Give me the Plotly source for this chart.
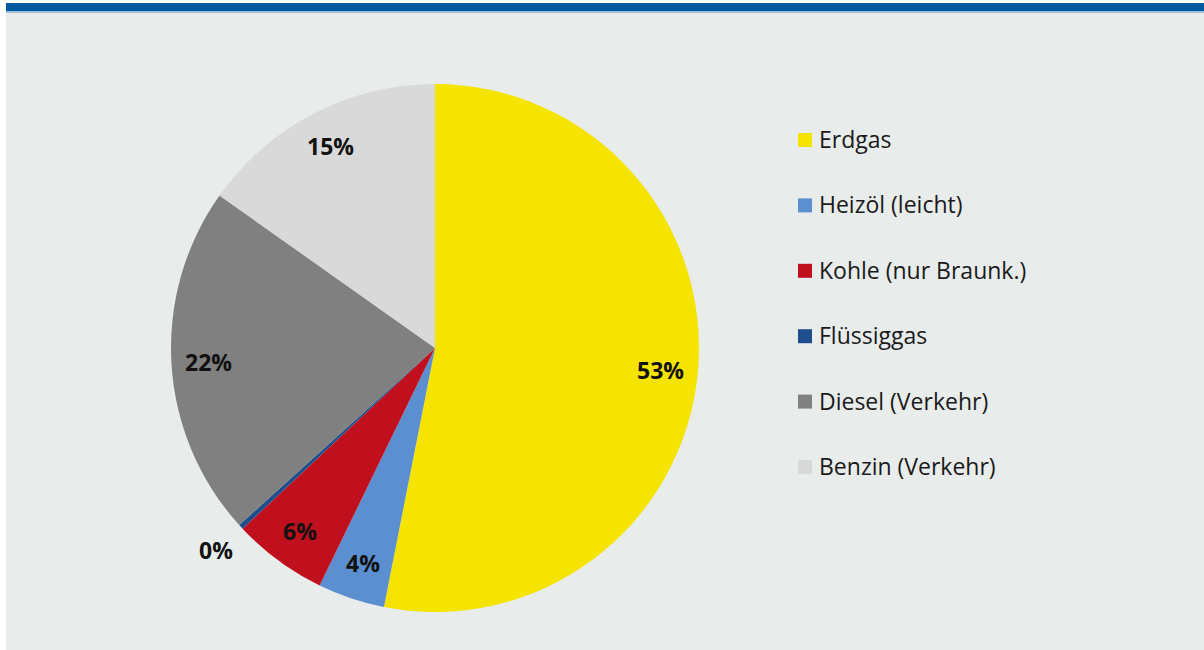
import math
import plotly.graph_objects as go

# data
labels = ["Erdgas", "Heizöl (leicht)", "Kohle (nur Braunk.)", "Flüssiggas",
          "Diesel (Verkehr)", "Benzin (Verkehr)"]
values = [53.1, 4.1, 5.8, 0.3, 21.5, 15.2]
colors = ["#f4e400", "#5b8fcf", "#c1101d", "#1f4e8c", "#808080", "#d9d9d9"]

W, H = 1204, 650
CX, CY, R = 435, 348, 264  # pie centre / radius in pixels
BG = "#e8eceb"
FONT = "Open Sans"

fig = go.Figure()
fig.add_trace(go.Pie(
    labels=labels,
    values=values,
    sort=False,
    direction="clockwise",
    rotation=0,
    marker=dict(colors=colors, line=dict(width=0)),
    textinfo="none",
    hoverinfo="label+percent",
    showlegend=False,
    domain=dict(x=[(CX - R) / W, (CX + R) / W],
                y=[(H - CY - R) / H, (H - CY + R) / H]),
))

# percentage labels, placed along the middle angle of each slice
total = sum(values)
cum = 0
annotations = []
for lab, v in zip(labels, values):
    mid = (cum + v / 2) / total * 2 * math.pi
    cum += v
    pct = v / total * 100
    f = 0.86 if pct >= 1 else 1.13
    x = CX + R * f * math.sin(mid)
    y = CY - R * f * math.cos(mid)
    annotations.append(dict(
        x=x / W, y=1 - y / H, xref="paper", yref="paper",
        text=f"<b>{pct:.0f}%</b>", showarrow=False,
        font=dict(family=FONT, size=23, color="#111111"),
        xanchor="center", yanchor="middle",
    ))

# legend built from the same lists
shapes = []
LX, LY0, LSTEP, SQ = 798, 140, 65.4, 14
for i, (lab, c) in enumerate(zip(labels, colors)):
    yc = LY0 + i * LSTEP
    shapes.append(dict(type="rect", xref="paper", yref="paper",
                       x0=LX / W, x1=(LX + SQ) / W,
                       y0=1 - (yc + SQ / 2) / H, y1=1 - (yc - SQ / 2) / H,
                       fillcolor=c, line=dict(width=0)))
    annotations.append(dict(
        x=(LX + SQ + 5) / W, y=1 - (yc - 1) / H, xref="paper", yref="paper",
        text=lab, showarrow=False, xanchor="left", yanchor="middle",
        font=dict(family=FONT, size=23, color="#1a1a1a"),
    ))

# white frame on the left/top and the blue bar along the top
shapes.append(dict(type="rect", xref="paper", yref="paper",
                   x0=0, x1=6 / W, y0=0, y1=1,
                   fillcolor="white", line=dict(width=0)))
shapes.append(dict(type="rect", xref="paper", yref="paper",
                   x0=0, x1=1, y0=1 - 3 / H, y1=1,
                   fillcolor="white", line=dict(width=0)))
shapes.append(dict(type="rect", xref="paper", yref="paper",
                   x0=6 / W, x1=1, y0=1 - 13 / H, y1=1 - 3 / H,
                   fillcolor="#9dbfdc", line=dict(width=0)))
shapes.append(dict(type="rect", xref="paper", yref="paper",
                   x0=6 / W, x1=1, y0=1 - 11 / H, y1=1 - 3 / H,
                   fillcolor="#005a9e", line=dict(width=0)))

fig.update_layout(
    width=W, height=H,
    margin=dict(l=0, r=0, t=0, b=0),
    paper_bgcolor=BG,
    plot_bgcolor=BG,
    annotations=annotations,
    shapes=shapes,
)

fig.write_html("out.html", config={"displayModeBar": False},
               post_script="document.body.style.margin='0';")
